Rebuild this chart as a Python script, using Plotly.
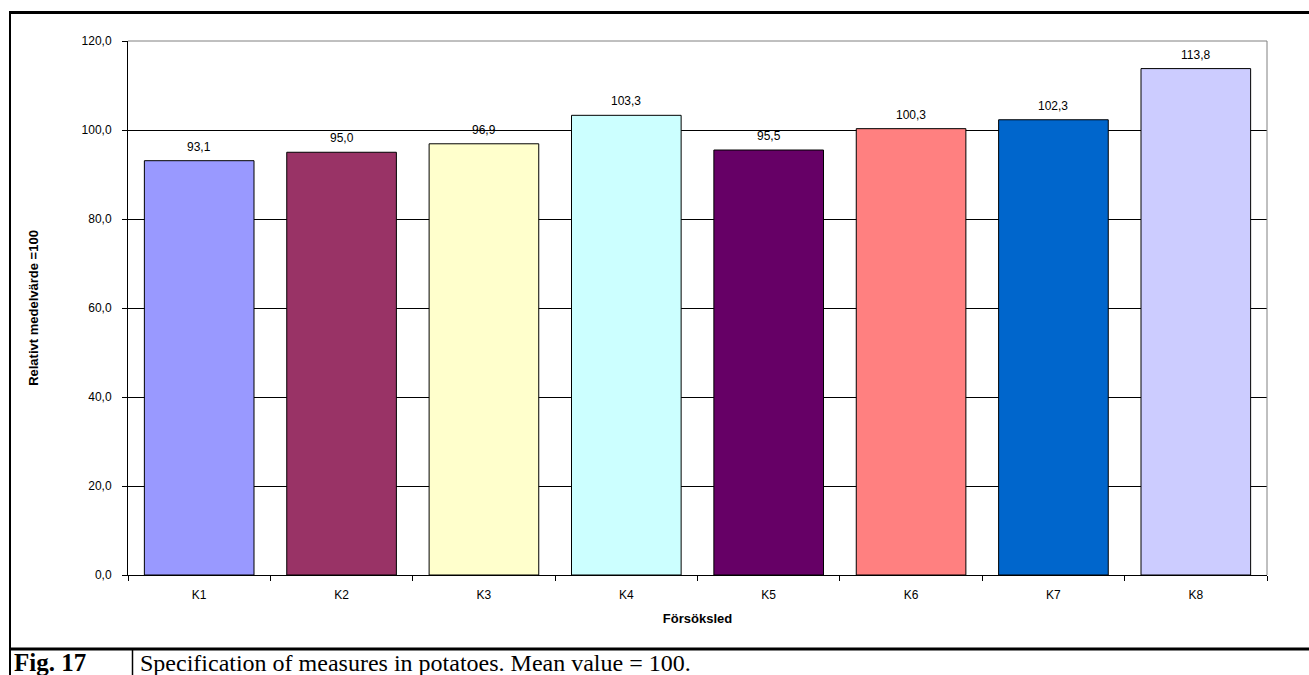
import plotly.graph_objects as go

categories = ["K1", "K2", "K3", "K4", "K5", "K6", "K7", "K8"]
values = [93.1, 95.0, 96.9, 103.3, 95.5, 100.3, 102.3, 113.8]
bar_colors = ["#9999FF", "#993366", "#FFFFCC", "#CCFFFF", "#660066", "#FF8080", "#0066CC", "#CCCCFF"]
y_tick_vals = [0, 20, 40, 60, 80, 100, 120]
y_tick_text = ["0,0", "20,0", "40,0", "60,0", "80,0", "100,0", "120,0"]
x_title = "Försöksled"
y_title = "Relativt medelvärde =100"
fig_label = "Fig. 17"
caption = "Specification of measures in potatoes. Mean value = 100."

W, H = 1309, 675
L, R, T, B = 128, 1267, 41, 575
pw, ph = R - L, B - T

def px(x):
    return (x - L) / pw

def py(y):
    return (B - y) / ph

labels = [f"{v:.1f}".replace(".", ",") for v in values]

fig = go.Figure(go.Bar(
    x=categories, y=values, marker=dict(color=bar_colors, line=dict(color="black", width=1)),
    width=0.77, cliponaxis=False,
))

for c, v, t in zip(categories, values, labels):
    fig.add_annotation(x=c, y=v, text=t, showarrow=False, yanchor="bottom", yshift=5,
                       font=dict(family="Liberation Sans, Arial", size=12, color="black"))

fig.update_layout(
    width=W, height=H, margin=dict(l=L, r=W - R, t=T, b=H - B),
    paper_bgcolor="white", plot_bgcolor="white", showlegend=False,
    font=dict(family="Liberation Sans, Arial", color="black"),
)
fig.update_xaxes(
    showline=True, linecolor="black", linewidth=1, tickson="boundaries",
    ticks="outside", ticklen=5, tickcolor="black", ticklabelstandoff=9,
    tickfont=dict(size=12), showgrid=False,
    title=dict(text=x_title, font=dict(size=13, weight="bold"), standoff=12),
)
fig.update_yaxes(
    range=[0, 120], tickvals=y_tick_vals, ticktext=y_tick_text,
    showline=True, linecolor="black", linewidth=1, ticklabelstandoff=8,
    ticks="outside", ticklen=5, tickcolor="black", tickfont=dict(size=12),
    showgrid=True, gridcolor="black", gridwidth=1, zeroline=False,
    title=dict(text=y_title, font=dict(size=13, weight="bold"), standoff=40),
)

shapes = [
    dict(type="line", xref="paper", yref="paper", x0=0, x1=1, y0=1, y1=1, line=dict(color="#808080", width=1), layer="above"),
    dict(type="line", xref="paper", yref="paper", x0=1, x1=1, y0=0, y1=1, line=dict(color="#808080", width=1), layer="above"),
    dict(type="line", xref="paper", yref="paper", x0=px(10), x1=px(1312), y0=py(12.5), y1=py(12.5), line=dict(color="black", width=3)),
    dict(type="line", xref="paper", yref="paper", x0=px(10), x1=px(10), y0=py(11), y1=py(680), line=dict(color="black", width=2)),
    dict(type="line", xref="paper", yref="paper", x0=px(10), x1=px(1312), y0=py(649), y1=py(649), line=dict(color="black", width=3)),
    dict(type="line", xref="paper", yref="paper", x0=px(132.5), x1=px(132.5), y0=py(649), y1=py(680), line=dict(color="black", width=1.5)),
]
fig.update_layout(shapes=shapes)

fig.add_annotation(xref="paper", yref="paper", x=px(12), y=py(678), xanchor="left", yanchor="bottom",
                   text=f"<b>{fig_label}</b>", showarrow=False,
                   font=dict(family="Liberation Serif, Times New Roman", size=25, color="black"))
fig.add_annotation(xref="paper", yref="paper", x=px(138), y=py(678), xanchor="left", yanchor="bottom",
                   text=caption, showarrow=False,
                   font=dict(family="Liberation Serif, Times New Roman", size=24, color="black"))

fig.write_html("out.html")
